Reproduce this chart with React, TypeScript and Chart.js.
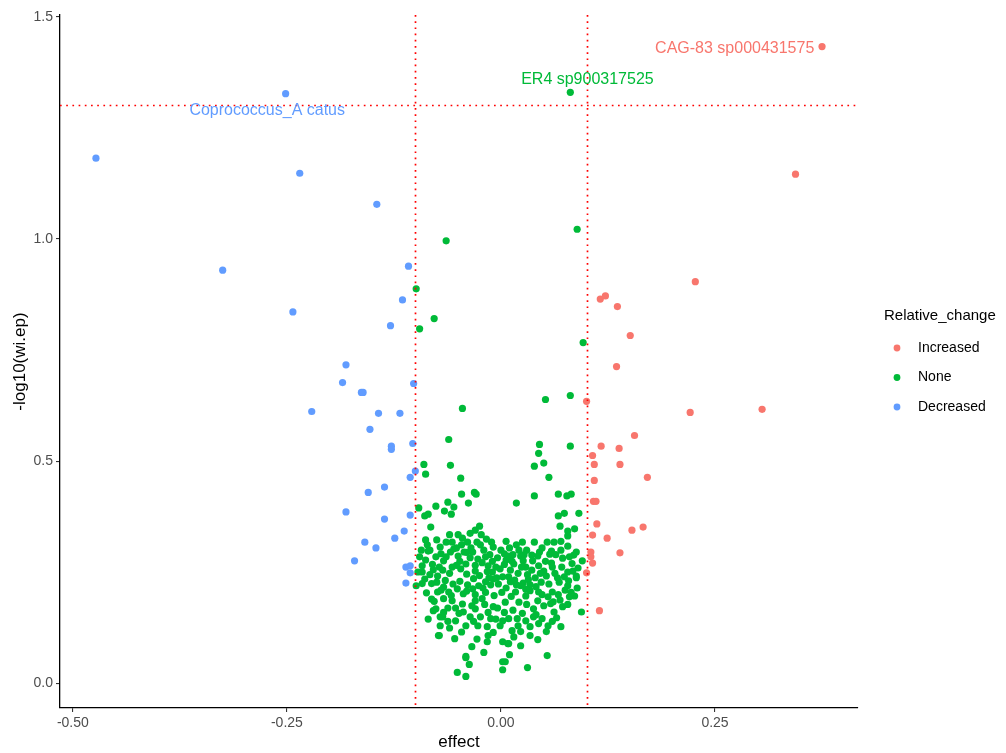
import React, { useEffect, useRef } from "react";
import { Chart, registerables } from "chart.js";

Chart.register(...registerables);

const FONT = "'Liberation Sans', Arial, sans-serif";

const seriesNames = ["Increased", "None", "Decreased"];
const seriesColors = ["#F8766D", "#00BA38", "#619CFF"];

const increasedPoints: number[][] = [
  [0.375, 1.433], [0.344, 1.146], [0.227, 0.904], [0.116, 0.865], [0.122, 0.872],
  [0.136, 0.848], [0.151, 0.783], [0.135, 0.713], [0.100, 0.635], [0.221, 0.610],
  [0.305, 0.617], [0.156, 0.558], [0.117, 0.534], [0.138, 0.529], [0.107, 0.513],
  [0.109, 0.493], [0.139, 0.493], [0.171, 0.464], [0.109, 0.457], [0.108, 0.410],
  [0.111, 0.410], [0.112, 0.359], [0.107, 0.334], [0.124, 0.327], [0.153, 0.345],
  [0.166, 0.352], [0.105, 0.296], [0.139, 0.294], [0.107, 0.271], [0.100, 0.249],
  [0.115, 0.164], [0.105, 0.285],
];

const decreasedPoints: number[][] = [
  [-0.473, 1.182], [-0.2515, 1.327], [-0.235, 1.148], [-0.145, 1.078], [-0.325, 0.930],
  [-0.243, 0.836], [-0.108, 0.939], [-0.115, 0.863], [-0.129, 0.805], [-0.181, 0.717],
  [-0.185, 0.677], [-0.163, 0.655], [-0.161, 0.655], [-0.221, 0.612], [-0.143, 0.608],
  [-0.118, 0.608], [-0.102, 0.675], [-0.153, 0.572], [-0.128, 0.534], [-0.128, 0.527],
  [-0.103, 0.540], [-0.100, 0.478], [-0.106, 0.464], [-0.136, 0.442], [-0.155, 0.430],
  [-0.181, 0.386], [-0.136, 0.370], [-0.106, 0.379], [-0.113, 0.343], [-0.124, 0.327],
  [-0.159, 0.318], [-0.146, 0.305], [-0.171, 0.276], [-0.111, 0.262], [-0.106, 0.265],
  [-0.106, 0.249], [-0.111, 0.226],
];

const nonePoints: number[][] = [
  [0.081, 1.330], [0.089, 1.022], [-0.064, 0.996], [-0.099, 0.888], [-0.078, 0.821],
  [-0.095, 0.798], [0.096, 0.767], [0.081, 0.648], [0.052, 0.639], [-0.045, 0.619],
  [-0.061, 0.549], [0.045, 0.538], [0.081, 0.534], [0.044, 0.518], [-0.090, 0.493],
  [-0.059, 0.491], [0.039, 0.489], [0.050, 0.496], [-0.088, 0.471], [-0.047, 0.462],
  [0.056, 0.464], [-0.046, 0.426], [-0.031, 0.430], [-0.029, 0.426], [-0.038, 0.406],
  [-0.096, 0.395], [-0.076, 0.399], [-0.062, 0.408], [-0.066, 0.388], [-0.058, 0.381],
  [-0.055, 0.397], [-0.089, 0.377], [-0.085, 0.381], [-0.082, 0.352], [-0.030, 0.345],
  [-0.025, 0.354], [0.039, 0.422], [0.018, 0.406], [0.067, 0.426], [0.077, 0.422],
  [0.082, 0.426], [0.091, 0.383], [0.067, 0.377], [0.074, 0.383], [0.069, 0.354],
  [0.078, 0.343], [0.078, 0.332], [0.086, 0.348], [0.078, 0.309], [0.088, 0.296],
  [0.085, 0.289], [0.095, 0.276], [0.039, 0.318], [0.088, 0.242], [0.094, 0.161],
  [0.054, 0.063], [0.031, 0.036], [0.002, 0.049], [0.002, 0.031], [-0.041, 0.058],
  [-0.037, 0.043], [-0.051, 0.025], [-0.041, 0.016], [-0.072, 0.108], [-0.054, 0.101],
  [-0.034, 0.083], [-0.097, 0.251], [-0.099, 0.220], [-0.087, 0.204], [-0.079, 0.164],
  [-0.071, 0.150],
  [-0.088, 0.323], [-0.075, 0.323], [-0.071, 0.307], [-0.085, 0.298], [-0.057, 0.318],
  [-0.045, 0.327], [-0.039, 0.318], [-0.024, 0.312], [-0.009, 0.307], [-0.055, 0.303],
  [-0.050, 0.287], [-0.033, 0.296], [-0.027, 0.280], [-0.076, 0.285], [-0.088, 0.278],
  [-0.067, 0.276], [-0.092, 0.251], [-0.079, 0.256], [-0.074, 0.242], [-0.057, 0.262],
  [-0.047, 0.258], [-0.041, 0.269], [-0.030, 0.253], [-0.015, 0.265], [-0.010, 0.251],
  [-0.001, 0.258], [-0.074, 0.206], [-0.067, 0.217], [-0.061, 0.206], [-0.051, 0.213],
  [-0.044, 0.202], [-0.033, 0.213], [-0.026, 0.220], [-0.018, 0.229], [-0.009, 0.235],
  [0.002, 0.240], [-0.067, 0.191], [-0.057, 0.186], [-0.045, 0.179], [-0.030, 0.186],
  [-0.022, 0.191], [-0.009, 0.173], [-0.076, 0.168], [-0.044, 0.161], [-0.036, 0.150],
  [-0.024, 0.150], [-0.012, 0.146], [0.002, 0.141], [-0.068, 0.150], [-0.071, 0.130],
  [-0.053, 0.141], [-0.041, 0.130], [-0.027, 0.130], [-0.016, 0.128], [-0.001, 0.130],
  [-0.073, 0.108], [-0.015, 0.108], [-0.016, 0.094], [0.002, 0.094], [0.008, 0.090],
  [-0.041, 0.061],
  [0.059, 0.298], [0.057, 0.291], [0.036, 0.289], [0.043, 0.287], [0.023, 0.287],
  [0.009, 0.287], [0.015, 0.269], [0.026, 0.276], [0.037, 0.276], [0.044, 0.265],
  [0.059, 0.271], [0.050, 0.253], [0.066, 0.238], [0.078, 0.251], [0.088, 0.238],
  [0.078, 0.220], [0.079, 0.231], [0.086, 0.197], [0.080, 0.195], [0.060, 0.206],
  [0.055, 0.195], [0.061, 0.184], [0.072, 0.173], [0.062, 0.161], [0.065, 0.148],
  [0.044, 0.206], [0.034, 0.209], [0.023, 0.220], [0.011, 0.229], [0.017, 0.206],
  [0.029, 0.197], [0.043, 0.186], [0.050, 0.175], [0.038, 0.168], [0.009, 0.146],
  [0.019, 0.146], [0.029, 0.141], [0.034, 0.128], [0.048, 0.146], [0.055, 0.130],
  [0.053, 0.117], [0.013, 0.119], [0.023, 0.117], [0.034, 0.108], [0.043, 0.099],
  [0.009, 0.090], [0.023, 0.085], [0.005, 0.049],
  [-0.052, 0.305], [-0.043, 0.296], [-0.035, 0.305], [-0.020, 0.300], [-0.013, 0.290],
  [-0.004, 0.283], [0.006, 0.278], [0.014, 0.290], [0.021, 0.300], [0.029, 0.262],
  [-0.048, 0.275], [-0.036, 0.283], [-0.022, 0.272], [-0.018, 0.285], [-0.006, 0.262],
  [0.004, 0.268], [0.011, 0.255], [0.020, 0.248], [0.031, 0.245], [0.040, 0.238],
  [0.047, 0.228], [-0.040, 0.246], [-0.032, 0.236], [-0.025, 0.243], [-0.014, 0.238],
  [-0.003, 0.224], [0.006, 0.215], [0.016, 0.233], [0.026, 0.226], [0.034, 0.222],
  [0.041, 0.218], [0.056, 0.224], [0.063, 0.248], [0.071, 0.262], [-0.060, 0.248],
  [-0.065, 0.232], [-0.056, 0.224], [-0.048, 0.230], [-0.039, 0.222], [-0.030, 0.200],
  [-0.018, 0.205], [-0.008, 0.198], [0.001, 0.205], [0.012, 0.196], [0.021, 0.183],
  [0.030, 0.178], [-0.062, 0.170], [-0.049, 0.158], [-0.030, 0.168], [-0.019, 0.178],
  [-0.004, 0.170], [0.005, 0.183], [0.014, 0.165], [0.025, 0.158], [0.041, 0.155],
  [-0.081, 0.225], [-0.083, 0.300], [-0.070, 0.292], [-0.064, 0.318], [-0.050, 0.335],
  [-0.017, 0.325], [-0.036, 0.338], [0.010, 0.305], [0.030, 0.300], [0.048, 0.305],
  [0.062, 0.318], [0.070, 0.300], [0.083, 0.270], [0.052, 0.275], [-0.093, 0.300],
  [-0.092, 0.225], [-0.078, 0.185], [-0.085, 0.145], [0.067, 0.200], [0.075, 0.210],
  [0.089, 0.215], [0.070, 0.128], [-0.009, 0.115], [-0.028, 0.100], [-0.060, 0.125],
  [0.010, 0.065], [-0.020, 0.070],
  [-0.086, 0.312], [-0.080, 0.268], [-0.072, 0.262], [-0.064, 0.285], [-0.059, 0.296],
  [-0.046, 0.312], [-0.040, 0.295], [-0.028, 0.318], [-0.011, 0.318], [0.000, 0.300],
  [0.004, 0.292], [0.018, 0.312], [0.027, 0.290], [0.045, 0.296], [0.064, 0.290],
  [0.072, 0.282], [0.080, 0.285], [0.090, 0.260], [0.084, 0.253], [0.074, 0.240],
  [0.068, 0.228], [0.060, 0.262], [0.053, 0.242], [0.046, 0.248], [0.036, 0.255],
  [0.024, 0.262], [0.013, 0.275], [-0.010, 0.275], [-0.030, 0.266], [-0.052, 0.266],
  [-0.068, 0.255], [-0.083, 0.245], [-0.089, 0.235], [-0.075, 0.228], [-0.070, 0.210],
  [-0.058, 0.198], [-0.040, 0.208], [-0.021, 0.215], [-0.012, 0.222], [0.009, 0.240],
  [0.018, 0.222], [0.029, 0.212], [0.048, 0.200], [0.058, 0.180], [0.069, 0.188],
  [0.082, 0.205], [0.078, 0.178], [0.060, 0.140], [0.044, 0.135], [0.020, 0.130],
  [0.004, 0.160], [-0.015, 0.160], [-0.034, 0.175], [-0.053, 0.170], [-0.067, 0.160],
  [-0.081, 0.190], [-0.062, 0.140], [-0.046, 0.116], [-0.032, 0.140], [-0.006, 0.145],
  [0.015, 0.105], [0.038, 0.150], [-0.092, 0.265], [-0.095, 0.285], [-0.060, 0.335],
  [-0.023, 0.335], [0.006, 0.320], [0.025, 0.318], [0.054, 0.318], [0.070, 0.320],
  [-0.005, 0.238], [-0.016, 0.252], [0.032, 0.234],
];

const seriesPoints = [increasedPoints, nonePoints, decreasedPoints];

const xRange = [-0.515, 0.417];
const yRange = [-0.055, 1.504];
const xTickValues = [-0.5, -0.25, 0, 0.25];
const xTickLabels = ["-0.50", "-0.25", "0.00", "0.25"];
const yTickValues = [0, 0.5, 1, 1.5];
const yTickLabels = ["0.0", "0.5", "1.0", "1.5"];

const effectCutoffs = [-0.1, 0.1];
const significanceCutoffs = [1.301];

const labelTexts = ["Coprococcus_A catus", "ER4 sp900317525", "CAG-83 sp000431575"];
const labelSeries = [2, 1, 0];
const labelX = [-0.273, 0.101, 0.273];
const labelY = [1.288, 1.358, 1.428];

const legendTitle = "Relative_change";

const overlayPlugin = {
  id: "overlay",
  afterDatasetsDraw(chart: any) {
    const { ctx, chartArea, scales } = chart;
    const xs = scales.x;
    const ys = scales.y;
    ctx.save();
    ctx.strokeStyle = "#FF0000";
    ctx.lineWidth = 1.7;
    ctx.setLineDash([1.7, 4.5]);
    effectCutoffs.forEach((v) => {
      const px = Math.round(xs.getPixelForValue(v)) + 0.5;
      ctx.beginPath();
      ctx.moveTo(px, chartArea.top);
      ctx.lineTo(px, chartArea.bottom);
      ctx.stroke();
    });
    significanceCutoffs.forEach((v) => {
      const py = Math.round(ys.getPixelForValue(v)) + 0.5;
      ctx.beginPath();
      ctx.moveTo(chartArea.left, py);
      ctx.lineTo(chartArea.right, py);
      ctx.stroke();
    });
    ctx.setLineDash([]);
    ctx.font = `16px ${FONT}`;
    ctx.textAlign = "center";
    ctx.textBaseline = "middle";
    labelTexts.forEach((t, i) => {
      ctx.fillStyle = seriesColors[labelSeries[i]];
      ctx.fillText(t, xs.getPixelForValue(labelX[i]), ys.getPixelForValue(labelY[i]));
    });
    ctx.restore();
  },
  afterDraw(chart: any) {
    const { ctx } = chart;
    ctx.save();
    ctx.fillStyle = "#000000";
    ctx.font = `15px ${FONT}`;
    ctx.textAlign = "left";
    ctx.textBaseline = "alphabetic";
    ctx.fillText(legendTitle, 884, 320);
    ctx.font = `14px ${FONT}`;
    ctx.textBaseline = "middle";
    seriesNames.forEach((name, i) => {
      const cy = 348 + i * 29.5;
      ctx.fillStyle = seriesColors[i];
      ctx.beginPath();
      ctx.arc(897, cy, 3.4, 0, Math.PI * 2);
      ctx.fill();
      ctx.fillStyle = "#000000";
      ctx.fillText(name, 918, cy);
    });
    ctx.restore();
  },
};

export default function App() {
  const canvasRef = useRef<HTMLCanvasElement | null>(null);

  useEffect(() => {
    if (!canvasRef.current) return;
    const chart = new Chart(canvasRef.current, {
      type: "scatter",
      data: {
        datasets: seriesNames.map((name, i) => ({
          label: name,
          data: seriesPoints[i].map((p) => ({ x: p[0], y: p[1] })),
          backgroundColor: seriesColors[i],
          borderWidth: 0,
          pointRadius: 3.6,
          pointHoverRadius: 3.6,
        })),
      },
      options: {
        animation: false,
        responsive: true,
        maintainAspectRatio: false,
        events: [],
        layout: { padding: { top: 15, right: 148, bottom: 0, left: 0 } },
        plugins: {
          legend: { display: false },
          tooltip: { enabled: false },
        },
        scales: {
          x: {
            type: "linear",
            min: xRange[0],
            max: xRange[1],
            afterBuildTicks: (s: any) => {
              s.ticks = xTickValues.map((v) => ({ value: v }));
            },
            afterFit: (s: any) => {
              s.height = 45;
            },
            ticks: {
              autoSkip: false,
              maxRotation: 0,
              padding: 3,
              color: "#4D4D4D",
              font: { family: FONT, size: 14 },
              callback: (_v: any, i: number) => xTickLabels[i],
            },
            grid: {
              display: true,
              drawOnChartArea: false,
              drawTicks: true,
              tickLength: 4,
              color: "#333333",
              lineWidth: 1.1,
            },
            border: { display: true, color: "#000000", width: 1.3 },
            title: {
              display: true,
              text: "effect",
              color: "#000000",
              font: { family: FONT, size: 17 },
              padding: { top: 0, bottom: 0 },
            },
          },
          y: {
            type: "linear",
            min: yRange[0],
            max: yRange[1],
            afterBuildTicks: (s: any) => {
              s.ticks = yTickValues.map((v) => ({ value: v }));
            },
            afterFit: (s: any) => {
              s.width = 60;
            },
            ticks: {
              autoSkip: false,
              padding: 3,
              color: "#4D4D4D",
              font: { family: FONT, size: 14 },
              callback: (_v: any, i: number) => yTickLabels[i],
            },
            grid: {
              display: true,
              drawOnChartArea: false,
              drawTicks: true,
              tickLength: 4,
              color: "#333333",
              lineWidth: 1.1,
            },
            border: { display: true, color: "#000000", width: 1.3 },
            title: {
              display: true,
              text: "-log10(wi.ep)",
              color: "#000000",
              font: { family: FONT, size: 17 },
              padding: { top: 10, bottom: 0 },
            },
          },
        },
      },
      plugins: [overlayPlugin],
    } as any);
    return () => chart.destroy();
  }, []);

  return (
    <div style={{ position: "absolute", left: 0, top: 0, width: 1006, height: 753, background: "#FFFFFF" }}>
      <canvas ref={canvasRef} />
    </div>
  );
}
